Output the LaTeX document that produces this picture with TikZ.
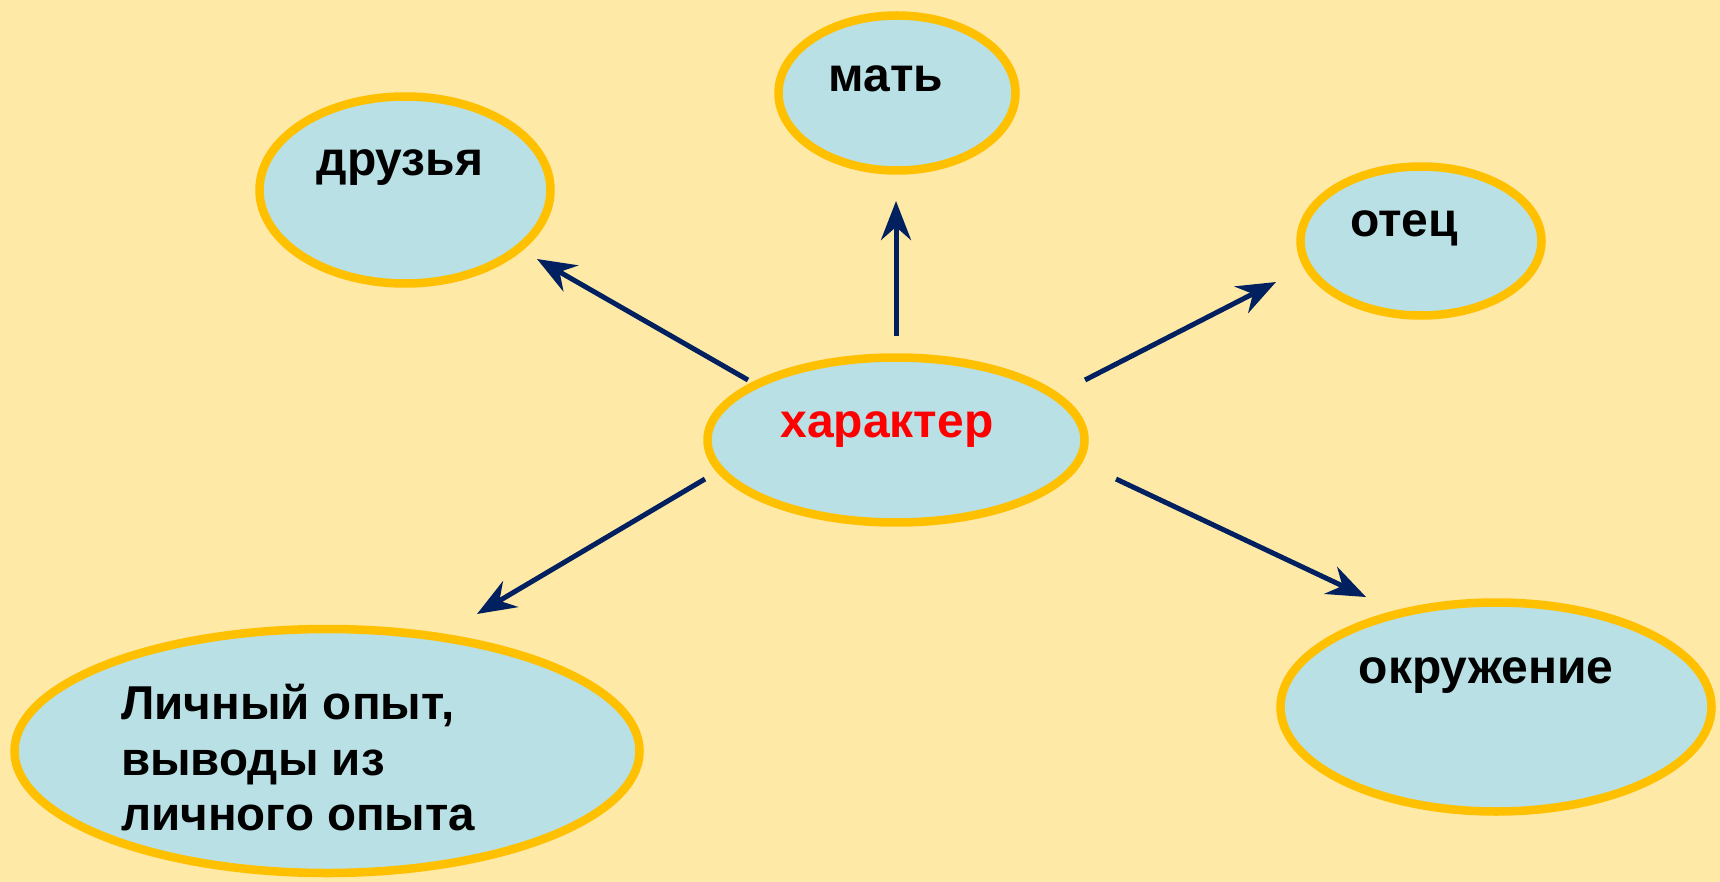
\documentclass[tikz,border=0pt]{standalone}
\usepackage{fontspec}
\setmainfont{Liberation Sans}
\usetikzlibrary{arrows.meta,shapes.geometric}
\definecolor{bgyellow}{HTML}{FFE9A6}
\definecolor{ovalfill}{HTML}{B9E0E4}
\definecolor{ovalline}{HTML}{FFC000}
\definecolor{arrowblue}{HTML}{002060}
\tikzset{
  oval/.style={ellipse, draw=ovalline, fill=ovalfill, line width=8.5pt, inner sep=0pt},
  lbl/.style={font=\fontsize{48}{56}\selectfont\bfseries, inner sep=0pt, text=black},
  arr/.style={draw=arrowblue, line width=5pt, -{Stealth[length=39pt, width=30pt, inset=13pt]}}
}
\begin{document}
\begin{tikzpicture}[x=1pt, y=-1pt]
\useasboundingbox (0,0) rectangle (1720,882);
\fill[bgyellow] (0,0) rectangle (1720,882);
% ovals (path radius = outer radius - half line width)
\node[oval, minimum width=291pt, minimum height=187pt] (friends) at (405,190) {};
\node[oval, minimum width=237pt, minimum height=155pt] (mother) at (897,93) {};
\node[oval, minimum width=241pt, minimum height=149pt] (father) at (1421,241) {};
\node[oval, minimum width=377pt, minimum height=165pt] (char) at (896,440) {};
\node[oval, minimum width=625pt, minimum height=244pt] (personal) at (327,751) {};
\node[oval, minimum width=431pt, minimum height=209pt] (env) at (1496,707) {};
% labels
\node[lbl, anchor=base] (tfriends) at (400,176) {друзья};
\node[lbl, anchor=base] (tmother) at (886,92) {мать};
\node[lbl, anchor=base] (tfather) at (1404,237) {отец};
\node[lbl, anchor=base, text=red] (tchar) at (887,437) {характер};
\node[lbl, anchor=base] (tenv) at (1486,683) {окружение};
\node[lbl, anchor=west, align=left, font=\fontsize{47.5}{55.5}\selectfont\bfseries] (tpersonal) at (121,758) {Личный опыт,\\выводы из\\личного опыта};
% arrow ends
\coordinate (s1) at (748,380); \coordinate (e1) at (537,259);
\coordinate (s2) at (896,336); \coordinate (e2) at (896,201);
\coordinate (s3) at (1085,380); \coordinate (e3) at (1276,282);
\coordinate (s4) at (705,479); \coordinate (e4) at (477,614);
\coordinate (s5) at (1116,479); \coordinate (e5) at (1366,597);
\draw[arr] (s1) -- (e1);
\draw[arr] (s2) -- (e2);
\draw[arr] (s3) -- (e3);
\draw[arr] (s4) -- (e4);
\draw[arr] (s5) -- (e5);
\end{tikzpicture}
\end{document}
